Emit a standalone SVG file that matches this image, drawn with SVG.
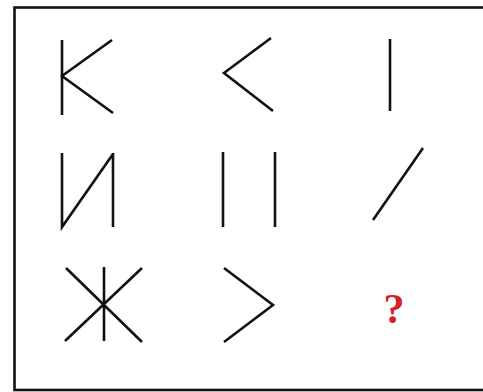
<svg xmlns="http://www.w3.org/2000/svg" width="483" height="392" viewBox="0 0 483 392">
<style>
.s{fill:none;stroke:#111;stroke-width:2.6;stroke-linecap:butt;stroke-linejoin:miter}
.q{font-family:"Liberation Serif",serif;font-weight:bold;font-size:42px;fill:#d4202c}
</style>
<rect width="483" height="392" fill="#fff"/>
<rect x="14.5" y="7.5" width="480" height="382.5" fill="none" stroke="#111" stroke-width="2.6"/>
<g id="k"><path class="s" d="M62 40V115M112 40L62 76L113 113"/></g>
<g id="lt"><path class="s" d="M271 38L224 73L273 111"/></g>
<g id="bar"><path class="s" d="M390 39V111"/></g>
<g id="i"><path class="s" d="M62 153V227L113 154M113 153V227"/></g>
<g id="bars"><path class="s" d="M223 152V227M275 152V227"/></g>
<g id="slash"><path class="s" d="M373 220L423 148"/></g>
<g id="zh"><path class="s" d="M104 267V341M66 268L142 342M142 268L65 341"/></g>
<g id="gt"><path class="s" d="M224 268L273 305L224 342"/></g>
<g id="q"><text class="q" x="394" y="323" text-anchor="middle">?</text></g>
</svg>
